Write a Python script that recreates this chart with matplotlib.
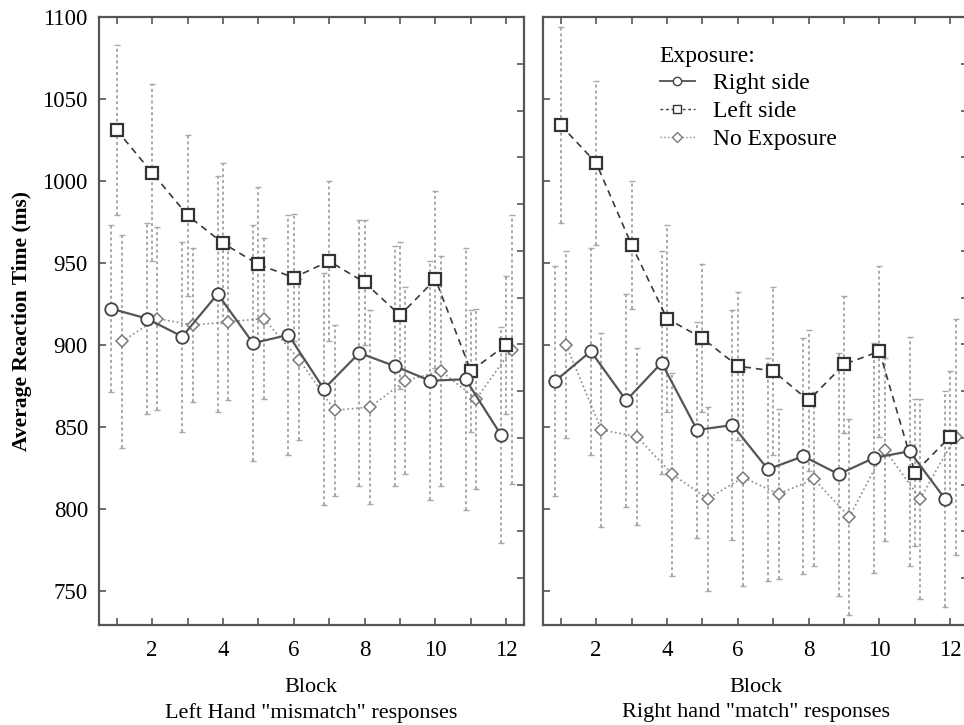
import matplotlib
matplotlib.use('Agg')
import matplotlib.pyplot as plt
from matplotlib.lines import Line2D

plt.rcParams['font.family'] = ['Liberation Serif', 'DejaVu Serif']

blocks = list(range(1, 13))

# Left hand "mismatch" responses
left_right_side = [922, 916, 905, 931, 901, 906, 873, 895, 887, 878, 879, 845]
left_right_side_err = [51, 58, 58, 72, 72, 73, 71, 81, 73, 73, 80, 66]
left_left_side = [1031, 1005, 979, 962, 949, 941, 951, 938, 918, 940, 884, 900]
left_left_side_err = [52, 54, 49, 49, 47, 39, 49, 38, 45, 54, 37, 42]
left_no_exp = [902, 916, 912, 914, 916, 891, 860, 862, 878, 884, 867, 897]
left_no_exp_err = [65, 56, 47, 48, 49, 49, 52, 59, 57, 70, 55, 82]

# Right hand "match" responses
right_right_side = [878, 896, 866, 889, 848, 851, 824, 832, 821, 831, 835, 806]
right_right_side_err = [70, 63, 65, 68, 66, 70, 68, 72, 74, 70, 70, 66]
right_left_side = [1034, 1011, 961, 916, 904, 887, 884, 866, 888, 896, 822, 844]
right_left_side_err = [60, 50, 39, 57, 45, 45, 51, 43, 42, 52, 45, 40]
right_no_exp = [900, 848, 844, 821, 806, 819, 809, 818, 795, 836, 806, 844]
right_no_exp_err = [57, 59, 54, 62, 56, 66, 52, 53, 60, 56, 61, 72]

fig = plt.figure(figsize=(9.64, 7.25), dpi=100)

spine_col = '#555555'
err_col = '#a8a8a8'


def draw_panel(ax, rs, rs_err, ls, ls_err, ne, ne_err, ylabels):
    x_rs = [b - 0.15 for b in blocks]
    x_ls = blocks
    x_ne = [b + 0.15 for b in blocks]
    # error bars first
    for xs, ys, es in [(x_rs, rs, rs_err), (x_ls, ls, ls_err), (x_ne, ne, ne_err)]:
        eb = ax.errorbar(xs, ys, yerr=es, fmt='none', ecolor=err_col,
                         elinewidth=1.4, capsize=2, capthick=1.0, zorder=1)
        eb[2][0].set_linestyle((0, (1.5, 1.5)))
    ax.plot(x_ne, ne, linestyle=':', color='#8a8a8a', linewidth=1.2,
            marker='D', markersize=6, markerfacecolor='white',
            markeredgecolor='#7a7a7a', markeredgewidth=1.1, zorder=3)
    ax.plot(x_ls, ls, linestyle=(0, (4, 3)), color='#3a3a3a', linewidth=1.2,
            marker='s', markersize=8, markerfacecolor='white',
            markeredgecolor='#333333', markeredgewidth=1.6, zorder=4)
    ax.plot(x_rs, rs, linestyle='-', color='#555555', linewidth=1.6,
            marker='o', markersize=9, markerfacecolor='white',
            markeredgecolor='#444444', markeredgewidth=1.3, zorder=5)

    ax.set_xlim(0.5, 12.5)
    ax.set_ylim(729, 1100)
    ax.set_xticks(blocks)
    ax.set_xticklabels([str(b) if b % 2 == 0 else '' for b in blocks])
    ax.set_yticks(range(750, 1101, 50))
    ax.tick_params(axis='x', direction='in', length=5, width=1.2, top=True,
                   color=spine_col, labelsize=16.5, pad=11)
    ax.tick_params(axis='y', direction='in', length=5, width=1.2,
                   color=spine_col, labelsize=16.5, pad=8, labelleft=ylabels)
    for s in ax.spines.values():
        s.set_color(spine_col)
        s.set_linewidth(1.6)
    # odd right-hand tick marks
    tw = ax.twinx()
    tw.set_ylim(0, 13)
    tw.set_yticks(range(1, 13))
    tw.set_yticklabels([])
    tw.tick_params(axis='y', direction='in', length=5, width=1.2, color=spine_col)
    for s in tw.spines.values():
        s.set_visible(False)


ax1 = fig.add_axes([99 / 964, 1 - 625 / 725, 425 / 964, 608 / 725])
draw_panel(ax1, left_right_side, left_right_side_err, left_left_side,
           left_left_side_err, left_no_exp, left_no_exp_err, True)

ax2 = fig.add_axes([543 / 964, 1 - 625 / 725, 425 / 964, 608 / 725])
draw_panel(ax2, right_right_side, right_right_side_err, right_left_side,
           right_left_side_err, right_no_exp, right_no_exp_err, False)

handles = [
    Line2D([], [], linestyle='-', color='#505050', linewidth=1.3, marker='o',
           markersize=6, markerfacecolor='white', markeredgecolor='#444444'),
    Line2D([], [], linestyle=(0, (2, 2)), color='#3a3a3a', linewidth=1.0, marker='s',
           markersize=6, markerfacecolor='white', markeredgecolor='#333333'),
    Line2D([], [], linestyle=':', color='#8a8a8a', linewidth=1.0, marker='D',
           markersize=5, markerfacecolor='white', markeredgecolor='#7a7a7a'),
]
ax2.legend(handles, ['Right side', 'Left side', 'No Exposure'],
           title='Exposure:', loc='upper left',
           bbox_to_anchor=(643 / 964, 1 - 29 / 725),
           bbox_transform=fig.transFigure, frameon=False,
           fontsize=17, title_fontsize=17, alignment='left',
           handlelength=1.5, handletextpad=0.75, labelspacing=0.27,
           borderpad=0.2)

fig.text(22 / 964, 1 - 321 / 725, 'Average Reaction Time (ms)', rotation=90,
         ha='center', va='center', fontsize=15.5, fontweight='bold')

for cx, sub in [(311 / 964, 'Left Hand "mismatch" responses'),
                (756 / 964, 'Right hand "match" responses')]:
    fig.text(cx, 1 - 688 / 725, 'Block', ha='center', va='center', fontsize=16)
    fig.text(cx, 1 - 713 / 725, sub, ha='center', va='center', fontsize=16)

fig.savefig('out.png', dpi=100)
